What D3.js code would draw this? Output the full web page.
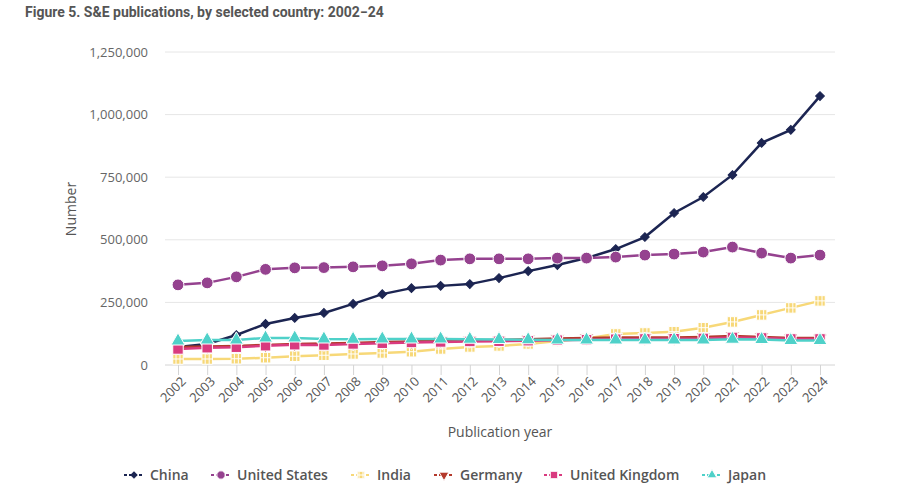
<!DOCTYPE html>
<html>
<head>
<meta charset="utf-8">
<script src="https://cdn.jsdelivr.net/npm/d3@7"></script>
<style>
  body { margin: 0; background: #fff; }
  svg { font-family: "Open Sans", sans-serif; }
</style>
</head>
<body>
<svg id="chart" width="900" height="497"></svg>
<script>
// data
var years = d3.range(2002, 2025);
var yTicks = [0, 250000, 500000, 750000, 1000000, 1250000];

var china = [72000, 84000, 120000, 164000, 188000, 208000, 244000, 283000, 307000, 316000, 323000, 347000, 375000, 399000, 427000, 463000, 511000, 607000, 671000, 759000, 887000, 939000, 1074000];
var unitedStates = [320000, 328000, 352000, 382000, 388000, 389000, 392000, 396000, 404000, 419000, 424000, 424000, 424000, 427000, 427000, 431000, 439000, 443000, 451000, 471000, 447000, 427000, 439000];
var india = [24000, 24000, 25000, 29000, 35000, 39000, 44000, 48000, 53000, 64000, 72000, 76000, 84000, 96000, 106000, 124000, 128000, 133000, 149000, 172000, 200000, 228000, 256000];
var germany = [72000, 74000, 76000, 80000, 84000, 86000, 88000, 92000, 94000, 97000, 99000, 100000, 103000, 106000, 108000, 110000, 110000, 110000, 112000, 116000, 112000, 108000, 108000];
var unitedKingdom = [64000, 69000, 71000, 77000, 81000, 80000, 84000, 87000, 90000, 92000, 94000, 95000, 97000, 99000, 101000, 103000, 104000, 105000, 106000, 110000, 108000, 104000, 104000];
var japan = [96000, 100000, 100000, 108000, 108000, 104000, 103000, 104000, 104000, 104000, 103000, 102000, 101000, 100000, 100000, 100000, 100000, 100000, 100000, 103000, 102000, 98000, 98000];

var series = [
  { name: "China", values: china, color: "#1c2552", shape: "diamond" },
  { name: "United States", values: unitedStates, color: "#95428f", shape: "circle" },
  { name: "India", values: india, color: "#f7d878", shape: "plus" },
  { name: "Germany", values: germany, color: "#b4392c", shape: "tridown" },
  { name: "United Kingdom", values: unitedKingdom, color: "#d93a7f", shape: "square" },
  { name: "Japan", values: japan, color: "#4fd1c9", shape: "triangle" }
];

var svg = d3.select("#chart");

var x = d3.scaleLinear().domain([2002, 2024]).range([178, 820]);
var y = d3.scaleLinear().domain([0, 1250000]).range([365, 52]);

var gridLeft = 165, gridRight = 835;

// title
svg.append("text")
  .attr("x", 25).attr("y", 17)
  .attr("font-family", "Roboto, sans-serif")
  .attr("font-weight", "bold")
  .attr("font-size", 14)
  .attr("fill", "#555")
  .text("Figure 5. S&E publications, by selected country: 2002\u221224");

// gridlines
svg.selectAll(".grid").data(yTicks.filter(d => d > 0)).enter()
  .append("line")
  .attr("x1", gridLeft).attr("x2", gridRight)
  .attr("y1", d => y(d)).attr("y2", d => y(d))
  .attr("stroke", "#e6e6e6").attr("stroke-width", 1);

// y axis
var yAxis = svg.append("g")
  .attr("transform", "translate(" + gridLeft + ",0)")
  .call(d3.axisLeft(y).tickValues(yTicks).tickSize(0).tickPadding(17).tickFormat(d3.format(",")));
yAxis.select(".domain").remove();
yAxis.selectAll("text").attr("font-size", 13).attr("fill", "#666").attr("font-family", "Open Sans, sans-serif");

svg.append("text")
  .attr("transform", "translate(76,209) rotate(-90)")
  .attr("text-anchor", "middle")
  .attr("font-size", 14)
  .attr("fill", "#555")
  .text("Number");

// x axis
var xAxis = svg.append("g")
  .attr("transform", "translate(0," + y(0) + ")")
  .call(d3.axisBottom(x).tickValues(years).tickSize(10).tickFormat(d3.format("d")));
xAxis.select(".domain").attr("d", "M" + gridLeft + ",0H" + gridRight).attr("stroke", "#d4d4d4");
xAxis.selectAll(".tick line").attr("stroke", "#d4d4d4");
xAxis.selectAll("text")
  .attr("font-size", 13).attr("fill", "#555").attr("font-family", "Open Sans, sans-serif")
  .attr("text-anchor", "end")
  .attr("dy", "0.35em")
  .attr("transform", "translate(5,14) rotate(-45)")
  .attr("y", 0).attr("x", 0);

svg.append("text")
  .attr("x", 500).attr("y", 437)
  .attr("text-anchor", "middle")
  .attr("font-size", 14)
  .attr("fill", "#555")
  .text("Publication year");

// markers
function drawMarker(g, shape, color, size) {
  var s = size || 1;
  if (shape === "diamond") {
    g.append("path").attr("d", d3.symbol(d3.symbolSquare, 38 * s)()).attr("transform", "rotate(45)")
      .attr("fill", color).attr("stroke", color).attr("stroke-width", 1);
  } else if (shape === "circle") {
    g.append("path").attr("d", d3.symbol(d3.symbolCircle, 110 * s)()).attr("fill", color).attr("stroke", "#fff").attr("stroke-width", 1);
  } else if (shape === "square") {
    g.append("path").attr("d", d3.symbol(d3.symbolSquare, 110 * s)()).attr("fill", color).attr("stroke", "#fff").attr("stroke-width", 1);
  } else if (shape === "plus") {
    g.append("path").attr("d", d3.symbol(d3.symbolSquare, 110 * s)()).attr("fill", color).attr("stroke", "#fff").attr("stroke-width", 1);
    var h = 5 * Math.sqrt(s);
    g.append("path").attr("d", "M-2," + (-h) + "V" + h + "M2," + (-h) + "V" + h + "M" + (-h) + ",0H" + h)
      .attr("stroke", "#fff").attr("stroke-width", 1).attr("fill", "none");
  } else if (shape === "triangle") {
    g.append("path").attr("d", d3.symbol(d3.symbolTriangle, 85 * s)()).attr("fill", color).attr("stroke", "#fff").attr("stroke-width", 1);
  } else if (shape === "tridown") {
    g.append("path").attr("d", d3.symbol(d3.symbolTriangle, 85 * s)()).attr("transform", "rotate(180)").attr("fill", color).attr("stroke", "#fff").attr("stroke-width", 1);
  }
}

var line = d3.line().x((d, i) => x(years[i])).y(d => y(d));

series.forEach(function(s) {
  svg.append("path")
    .datum(s.values)
    .attr("d", line)
    .attr("fill", "none")
    .attr("stroke", s.color)
    .attr("stroke-width", 2.5);
  s.values.forEach(function(v, i) {
    var g = svg.append("g").attr("transform", "translate(" + x(years[i]) + "," + y(v) + ")");
    drawMarker(g, s.shape, s.color);
  });
});

// legend
var legendX = [150, 237, 377, 460, 570, 728];
series.forEach(function(s, i) {
  var tx = legendX[i];
  var cx = tx - 16;
  svg.append("line")
    .attr("x1", cx - 10).attr("x2", cx + 8)
    .attr("y1", 475).attr("y2", 475)
    .attr("stroke", s.color).attr("stroke-width", 2).attr("stroke-dasharray", "3,2");
  var g = svg.append("g").attr("transform", "translate(" + cx + ",475)");
  drawMarker(g, s.shape, s.color, 0.5);
  svg.append("text")
    .attr("x", tx).attr("y", 480)
    .attr("font-size", 14)
    .attr("font-weight", 600)
    .attr("fill", "#555")
    .text(s.name);
});
</script>
</body>
</html>
